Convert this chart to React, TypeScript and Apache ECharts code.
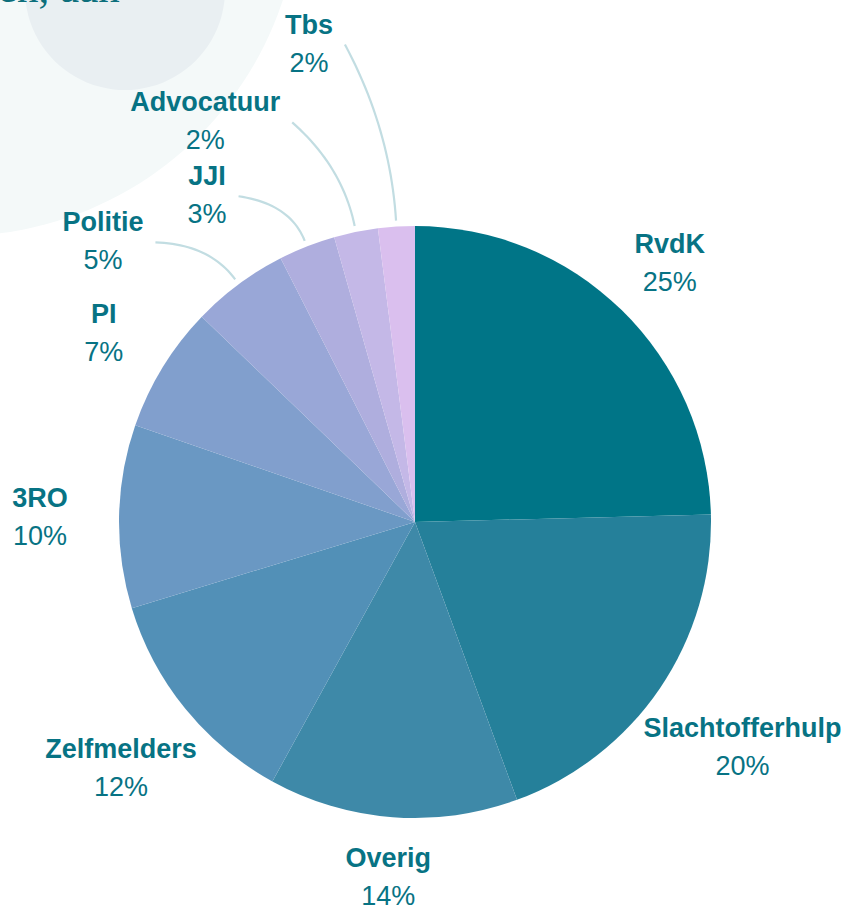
import React, { useEffect, useRef } from 'react';
import * as echarts from 'echarts';

// Data
const categories = ['RvdK', 'Slachtofferhulp', 'Overig', 'Zelfmelders', '3RO', 'PI', 'Politie', 'JJI', 'Advocatuur', 'Tbs'];
const shares = [24.6, 19.8, 13.6, 12.3, 10.0, 6.9, 5.3, 3.1, 2.4, 2.0];

// Styling / label layout
const sliceColors = ['#007587', '#25809a', '#3e89a8', '#5290b7', '#6a98c3', '#819fcd', '#99a7d7', '#afaede', '#c4b8e7', '#dabfee'];
const labelOffsets = [69, 100, 58, 86, 79, 69, 125, 93, 158, 196];
const labelAngleShifts = [0, 0, 0, -0.6, 0, 0, -11.3, -10.9, -16, -8.85];
const connected = [false, false, false, false, false, false, true, true, true, true];

const CX = 415;
const CY = 522;
const R = 296;
const LABEL_DY = 2;
const TEXT = '#077384';

export default function App() {
  const ref = useRef<HTMLDivElement>(null);

  useEffect(() => {
    if (!ref.current) return;
    const chart = echarts.init(ref.current, undefined, { renderer: 'svg' });
    const total = shares.reduce((a, b) => a + b, 0);

    const option: any = {
      animation: false,
      backgroundColor: '#ffffff',
      graphic: [
        { type: 'circle', z: 0, silent: true, shape: { cx: -43, cy: -107, r: 343 }, style: { fill: '#f4f9f9' } },
        { type: 'circle', z: 0, silent: true, shape: { cx: 125, cy: -10, r: 100 }, style: { fill: '#e9eff2' } },
        {
          type: 'text', z: 1, silent: true, x: -2, y: 9,
          style: { text: 'en, aan', fill: '#0d6f7c', font: '43px "Liberation Serif", serif', textVerticalAlign: 'bottom', verticalAlign: 'alphabetic' }
        }
      ],
      series: [
        {
          type: 'pie',
          center: [CX, CY],
          radius: R,
          startAngle: 90,
          clockwise: true,
          avoidLabelOverlap: false,
          itemStyle: { borderWidth: 0 },
          emphasis: { disabled: true },
          label: {
            show: true,
            position: 'outside',
            align: 'center',
            formatter: (p: any) => `{n|${p.name}}\n{v|${Math.round(p.value)}%}`,
            rich: {
              n: { fontFamily: '"Liberation Sans", Arial, sans-serif', fontWeight: 'bold', fontSize: 27, lineHeight: 38, color: TEXT, align: 'center' },
              v: { fontFamily: '"Liberation Sans", Arial, sans-serif', fontSize: 27, lineHeight: 38, color: TEXT, align: 'center' }
            }
          },
          labelLine: {
            show: true,
            smooth: false,
            lineStyle: { color: '#c2dde2', width: 2.2 }
          },
          labelLayout: (params: any) => {
            const i = params.dataIndex;
            let before = 0;
            for (let j = 0; j < i; j++) before += shares[j];
            const midDeg = ((before + shares[i] / 2) / total) * 360;
            const la = ((midDeg + labelAngleShifts[i]) * Math.PI) / 180;
            const dist = R + labelOffsets[i];
            const x = CX + Math.sin(la) * dist;
            const y = CY - Math.cos(la) * dist + LABEL_DY;
            const out: any = { x, y, align: 'center', verticalAlign: 'middle' };
            if (connected[i]) {
              const ma = (midDeg * Math.PI) / 180;
              const ux = Math.sin(ma);
              const uy = -Math.cos(ma);
              const p0 = [CX + ux * (R + 6), CY + uy * (R + 6)];
              const p2 = [x + params.labelRect.width / 2 + 12, y + 1];
              const d = Math.hypot(p2[0] - p0[0], p2[1] - p0[1]);
              const c = [p0[0] + ux * d * 0.5, p0[1] + uy * d * 0.5];
              const pts: number[][] = [];
              const N = 24;
              for (let k = 0; k <= N; k++) {
                const t = k / N;
                const a = (1 - t) * (1 - t);
                const b = 2 * (1 - t) * t;
                const e = t * t;
                pts.push([a * p0[0] + b * c[0] + e * p2[0], a * p0[1] + b * c[1] + e * p2[1]]);
              }
              out.labelLinePoints = pts;
            }
            return out;
          },
          data: categories.map((name, i) => ({
            name,
            value: shares[i],
            itemStyle: { color: sliceColors[i] },
            labelLine: { show: connected[i] }
          }))
        }
      ]
    };

    chart.setOption(option);
    return () => chart.dispose();
  }, []);

  return (
    <div
      ref={ref}
      style={{ position: 'absolute', left: 0, top: 0, width: 853, height: 907 }}
    />
  );
}
